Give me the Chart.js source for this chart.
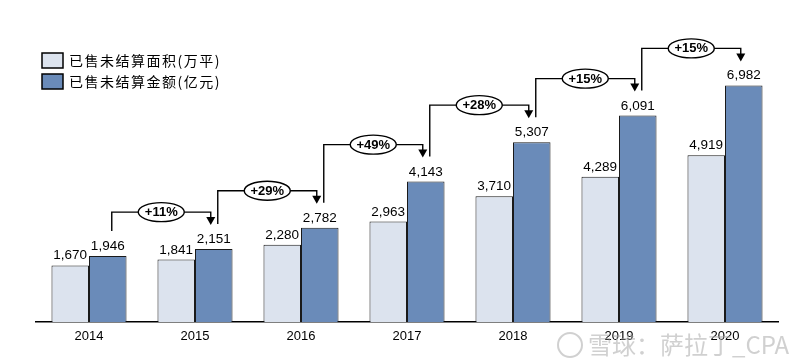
<!DOCTYPE html>
<html>
<head>
<meta charset="utf-8">
<script src="https://cdn.jsdelivr.net/npm/chart.js@4/dist/chart.umd.min.js"></script>
<style>
  html, body { margin: 0; padding: 0; background: #fff; }
  #wrap { width: 800px; height: 364px; position: relative; }
</style>
</head>
<body>
<div id="wrap"><canvas id="chart" width="800" height="364"></canvas></div>
<script>
const years = ['2014', '2015', '2016', '2017', '2018', '2019', '2020'];
const areaSold = [1670, 1841, 2280, 2963, 3710, 4289, 4919];
const amountSold = [1946, 2151, 2782, 4143, 5307, 6091, 6982];
const growthLabels = ['+11%', '+29%', '+49%', '+28%', '+15%', '+15%'];
const seriesNames = ['已售未结算面积(万平)', '已售未结算金额(亿元)'];

const LIGHT = '#dce3ee';
const DARK = '#6a8bb9';
const EDGE = '#1a1a1a';
const LATIN = '"Liberation Sans", Arial, sans-serif';
const CJK = '"Noto Sans CJK SC", "Liberation Sans", sans-serif';

function fmt(v) {
  return v.toLocaleString('en-US');
}

// value labels above every bar
const valueLabels = {
  id: 'valueLabels',
  afterDatasetsDraw(chart) {
    const ctx = chart.ctx;
    ctx.save();
    ctx.fillStyle = '#000';
    ctx.font = '13.5px ' + LATIN;
    ctx.textAlign = 'center';
    ctx.textBaseline = 'bottom';
    chart.data.datasets.forEach((ds, di) => {
      chart.getDatasetMeta(di).data.forEach((bar, i) => {
        ctx.fillText(fmt(ds.data[i]), bar.x, bar.y - 3);
      });
    });
    ctx.restore();
  }
};

// growth brackets between the amount bars
const growthBrackets = {
  id: 'growthBrackets',
  afterDatasetsDraw(chart) {
    const ctx = chart.ctx;
    const bars = chart.getDatasetMeta(1).data;
    ctx.save();
    ctx.strokeStyle = '#000';
    ctx.fillStyle = '#000';
    ctx.lineWidth = 1.4;
    for (let i = 0; i < growthLabels.length; i++) {
      const a = bars[i], b = bars[i + 1];
      const x1 = a.x + 4, x2 = b.x - 3;
      const top = Math.min(a.y, b.y) - 37;
      const yStart = a.y - 25;
      const tip = b.y - 24;

      ctx.beginPath();
      ctx.moveTo(x1, yStart);
      ctx.lineTo(x1, top);
      ctx.lineTo(x2, top);
      ctx.lineTo(x2, tip - 7);
      ctx.stroke();

      ctx.beginPath();
      ctx.moveTo(x2 - 4.5, tip - 8);
      ctx.lineTo(x2 + 4.5, tip - 8);
      ctx.lineTo(x2, tip);
      ctx.closePath();
      ctx.fill();

      const cx = (x1 + x2) / 2;
      ctx.beginPath();
      ctx.ellipse(cx, top, 23, 9.5, 0, 0, Math.PI * 2);
      ctx.fillStyle = '#fff';
      ctx.fill();
      ctx.stroke();
      ctx.fillStyle = '#000';
      ctx.font = 'bold 13px ' + LATIN;
      ctx.textAlign = 'center';
      ctx.textBaseline = 'middle';
      ctx.fillText(growthLabels[i], cx, top + 0.5);
    }
    ctx.restore();
  }
};

// legend in the top-left corner
const boxLegend = {
  id: 'boxLegend',
  afterDraw(chart) {
    const ctx = chart.ctx;
    ctx.save();
    chart.data.datasets.forEach((ds, i) => {
      const y = 53 + i * 21;
      ctx.fillStyle = ds.backgroundColor;
      ctx.fillRect(42, y, 21, 15);
      ctx.strokeStyle = '#000';
      ctx.lineWidth = 1.5;
      ctx.strokeRect(42, y, 21, 15);
      ctx.fillStyle = '#000';
      ctx.font = '14px ' + CJK;
      ctx.letterSpacing = '1.5px';
      ctx.textAlign = 'left';
      ctx.textBaseline = 'middle';
      ctx.fillText(ds.label, 69, y + 8);
      ctx.letterSpacing = '0px';
    });
    ctx.restore();
  }
};

// faint watermark in the bottom-right corner
const watermark = {
  id: 'watermark',
  afterDraw(chart) {
    const ctx = chart.ctx;
    ctx.save();
    ctx.fillStyle = 'rgba(170,170,170,0.55)';
    ctx.font = '24px ' + CJK;
    ctx.textAlign = 'left';
    ctx.textBaseline = 'middle';
    ctx.fillText('雪球：萨拉丁_CPA', 588, 345);
    ctx.strokeStyle = 'rgba(170,170,170,0.55)';
    ctx.lineWidth = 2;
    ctx.beginPath();
    ctx.arc(570, 345, 12, 0, Math.PI * 2);
    ctx.stroke();
    ctx.restore();
  }
};

new Chart(document.getElementById('chart'), {
  type: 'bar',
  data: {
    labels: years,
    datasets: [
      {
        label: seriesNames[0],
        data: areaSold,
        backgroundColor: LIGHT,
        borderColor: EDGE,
        borderWidth: 1,
        borderSkipped: 'bottom'
      },
      {
        label: seriesNames[1],
        data: amountSold,
        backgroundColor: DARK,
        borderColor: EDGE,
        borderWidth: 1,
        borderSkipped: 'bottom'
      }
    ]
  },
  options: {
    responsive: false,
    animation: false,
    devicePixelRatio: 1,
    layout: {
      padding: { left: 36, right: 22, top: 17, bottom: 0 }
    },
    datasets: {
      bar: {
        categoryPercentage: 0.708,
        barPercentage: 1
      }
    },
    plugins: {
      legend: { display: false },
      tooltip: { enabled: false }
    },
    scales: {
      x: {
        grid: { display: false, drawTicks: false },
        border: { display: true, color: '#000', width: 1.5 },
        ticks: {
          color: '#000',
          padding: 7,
          font: { family: LATIN, size: 13 }
        },
        afterFit(scale) {
          scale.height = 42;
        }
      },
      y: {
        display: false,
        min: 0,
        max: 9000
      }
    }
  },
  plugins: [valueLabels, growthBrackets, boxLegend, watermark]
});
</script>
</body>
</html>
